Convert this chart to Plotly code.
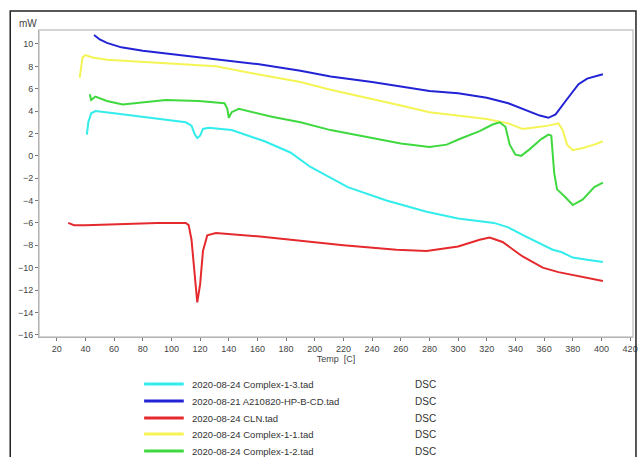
import plotly.graph_objects as go

# ---- data ----
series_names = [
    "2020-08-24 Complex-1-3.tad",
    "2020-08-21 A210820-HP-B-CD.tad",
    "2020-08-24 CLN.tad",
    "2020-08-24 Complex-1-1.tad",
    "2020-08-24 Complex-1-2.tad",
]
series_kind = ["DSC", "DSC", "DSC", "DSC", "DSC"]

cyan_T = [41, 42, 44, 47, 60, 80, 100, 110, 114, 116, 118, 120, 122, 126, 142, 165, 183, 197, 223, 250, 278, 300, 325, 335, 347, 360, 366, 372, 380, 390, 401]
cyan_mW = [1.9, 3.0, 3.8, 4.0, 3.8, 3.5, 3.2, 3.0, 2.7, 2.0, 1.6, 1.8, 2.4, 2.5, 2.3, 1.3, 0.3, -1.0, -2.8, -4.0, -5.0, -5.6, -6.0, -6.4, -7.2, -8.0, -8.4, -8.6, -9.1, -9.3, -9.5]

blue_T = [46, 50, 55, 65, 80, 100, 131, 160, 190, 211, 240, 260, 280, 300, 320, 335, 347, 357, 363, 368, 375, 384, 390, 401]
blue_mW = [10.8, 10.4, 10.1, 9.7, 9.4, 9.1, 8.7, 8.2, 7.6, 7.1, 6.6, 6.2, 5.8, 5.6, 5.2, 4.7, 4.1, 3.6, 3.4, 3.7, 4.9, 6.4, 6.9, 7.3]

red_T = [28, 32, 40, 60, 90, 110, 112, 114, 116, 118, 120, 122, 125, 131, 160, 190, 220, 257, 278, 300, 315, 322, 331, 345, 359, 370, 382, 401]
red_mW = [-6.0, -6.2, -6.2, -6.1, -6.0, -6.0, -6.2, -7.5, -10.5, -13.1, -11.5, -8.5, -7.1, -6.9, -7.2, -7.6, -8.0, -8.4, -8.5, -8.1, -7.5, -7.3, -7.7, -9.0, -10.0, -10.4, -10.7, -11.2]

yellow_T = [36, 37, 38, 40, 45, 55, 80, 100, 131, 160, 190, 211, 240, 260, 280, 300, 320, 335, 345, 352, 363, 370, 373, 376, 380, 387, 395, 401]
yellow_mW = [7.0, 7.8, 8.8, 9.0, 8.8, 8.6, 8.4, 8.3, 8.0, 7.3, 6.6, 5.9, 5.1, 4.5, 3.9, 3.6, 3.3, 2.9, 2.4, 2.5, 2.7, 2.9, 2.3, 1.0, 0.5, 0.7, 1.0, 1.3]

green_T = [43, 44, 47, 55, 66, 80, 96, 119, 131, 137, 139, 140, 142, 147, 170, 190, 211, 240, 260, 280, 292, 301, 315, 324, 329, 333, 336, 340, 344, 350, 358, 363, 365, 367, 369, 374, 380, 387, 395, 401]
green_mW = [5.5, 5.0, 5.3, 4.9, 4.6, 4.8, 5.0, 4.9, 4.8, 4.7, 4.2, 3.4, 3.9, 4.2, 3.5, 3.0, 2.3, 1.6, 1.1, 0.8, 1.0, 1.5, 2.2, 2.8, 3.0, 2.6, 1.0, 0.1, 0.0, 0.6, 1.5, 1.9, 1.8, -1.5, -3.0, -3.6, -4.4, -3.9, -2.8, -2.4]

x_ticks = list(range(20, 421, 20))
y_ticks = list(range(-16, 11, 2))

colors = ["#33ecec", "#2323d6", "#e52a2e", "#f4f455", "#3fd93f"]
xs = [cyan_T, blue_T, red_T, yellow_T, green_T]
ys = [cyan_mW, blue_mW, red_mW, yellow_mW, green_mW]

W, H = 643, 457
L, R, T, B = 39, 5, 30, 120
pw, ph = W - L - R, H - T - B

def px(p):
    return (p - L) / pw

def py(q):
    return (H - B - q) / ph

fig = go.Figure()
for name, x, y, c in zip(series_names, xs, ys, colors):
    fig.add_trace(go.Scatter(x=x, y=y, mode="lines", name=name,
                             line=dict(color=c, width=2), showlegend=False))

font_color = "#444"
fig.update_layout(
    width=W, height=H,
    margin=dict(l=L, r=R, t=T, b=B),
    paper_bgcolor="white", plot_bgcolor="white",
    font=dict(family="Liberation Sans, Arial, sans-serif", size=9, color=font_color),
    xaxis=dict(range=[7.6, 422], tickvals=x_ticks, showgrid=False, zeroline=False,
               showline=True, linecolor="#777", linewidth=1, ticks="outside",
               ticklen=3, tickcolor="#777",
               title=dict(text="Temp  [C]", standoff=2, font=dict(size=9))),
    yaxis=dict(range=[-16.2, 11.25], tickvals=y_ticks, showgrid=False, zeroline=False,
               showline=True, linecolor="#777", linewidth=1, ticks="outside",
               ticklen=3, tickcolor="#777"),
)

shapes = []
# light plot border (top/right)
shapes.append(dict(type="rect", xref="paper", yref="paper", x0=0, x1=1, y0=0, y1=1,
                   line=dict(color="#c8c8c8", width=1.5)))
# outer black frame
shapes.append(dict(type="rect", xref="paper", yref="paper",
                   x0=px(10), x1=px(641), y0=py(470), y1=py(11),
                   line=dict(color="#222", width=1.5)))

annotations = [dict(text="mW", xref="paper", yref="paper", x=px(17), y=py(24),
                    xanchor="left", yanchor="middle", showarrow=False,
                    font=dict(size=10, color=font_color))]

row_y = [384, 401, 418, 434, 451]
for name, kind, c, ry in zip(series_names, series_kind, colors, row_y):
    shapes.append(dict(type="line", xref="paper", yref="paper",
                       x0=px(145), x1=px(185), y0=py(ry), y1=py(ry),
                       line=dict(color=c, width=3)))
    annotations.append(dict(text=name, xref="paper", yref="paper", x=px(191), y=py(ry),
                            xanchor="left", yanchor="middle", showarrow=False,
                            font=dict(size=9.5, color="#333")))
    annotations.append(dict(text=kind, xref="paper", yref="paper", x=px(416), y=py(ry),
                            xanchor="left", yanchor="middle", showarrow=False,
                            font=dict(size=10, color="#333")))

fig.update_layout(shapes=shapes, annotations=annotations)
fig.write_html("out.html")
